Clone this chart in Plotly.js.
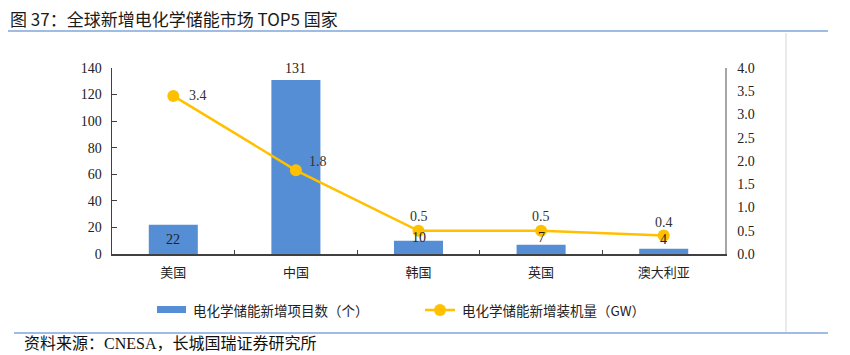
<!DOCTYPE html>
<html>
<head>
<meta charset="utf-8">
<script src="https://cdn.plot.ly/plotly-3.0.1.min.js"></script>
<style>html,body{margin:0;padding:0;background:#fff;}#chart{width:850px;height:355px;}</style>
</head>
<body>
<div id="chart"></div>
<script>
// ---- data ----
const categories = ['美国', '中国', '韩国', '英国', '澳大利亚'];
const projectCounts = [22, 131, 10, 7, 4];          // 电化学储能新增项目数（个）
const capacityGW = [3.4, 1.8, 0.5, 0.5, 0.4];       // 电化学储能新增装机量（GW）
const barSeriesName = '电化学储能新增项目数（个）';
const lineSeriesName = '电化学储能新增装机量（GW）';
const leftTicks = [0, 20, 40, 60, 80, 100, 120, 140];
const rightTicks = [0, 0.5, 1, 1.5, 2, 2.5, 3, 3.5, 4];

// label offsets (styling only)
const barLabelShift = [-15, 11, 3, 7, 9];
const lineLabelXShift = [25, 22, 0, 0, 0];
const lineLabelYShift = [0, 9, 14, 14, 13];

const BAR = '#558ed5';
const GOLD = '#ffc000';
const SERIF = 'Liberation Serif, Times New Roman, serif';
const CJK = 'Noto Sans CJK SC, sans-serif';
const MIX = 'Liberation Serif, Noto Sans CJK SC, serif';

const traces = [
  {
    type: 'bar', x: categories, y: projectCounts, name: barSeriesName,
    marker: {color: BAR}, width: 0.4, yaxis: 'y', hoverinfo: 'skip'
  },
  {
    type: 'scatter', mode: 'lines+markers', x: categories, y: capacityGW, name: lineSeriesName,
    line: {color: GOLD, width: 2.5}, marker: {color: GOLD, size: 12}, yaxis: 'y2', hoverinfo: 'skip'
  }
];

const annotations = [];
categories.forEach((c, i) => {
  annotations.push({x: c, y: projectCounts[i], xref: 'x', yref: 'y', text: String(projectCounts[i]),
    showarrow: false, yshift: barLabelShift[i], font: {family: SERIF, size: 14, color: '#222'}});
  annotations.push({x: c, y: capacityGW[i], xref: 'x', yref: 'y2', text: capacityGW[i].toFixed(1),
    showarrow: false, xshift: lineLabelXShift[i], yshift: lineLabelYShift[i], font: {family: SERIF, size: 14, color: '#333'}});
});
// title, source, legend texts
annotations.push({xref: 'paper', yref: 'paper', x: -0.1697, y: 1.2688, xanchor: 'left', yanchor: 'middle',
  text: '图 37：全球新增电化学储能市场 TOP5 国家', showarrow: false, font: {family: CJK, size: 17, color: '#1a1a1a'}});
annotations.push({xref: 'paper', yref: 'paper', x: -0.1468, y: -0.5376, xanchor: 'left', yanchor: 'bottom',
  text: '资料来源：CNESA，长城国瑞证券研究所', showarrow: false, font: {family: MIX, size: 16, color: '#111'}});
annotations.push({xref: 'paper', yref: 'paper', x: 0.1289, y: -0.301, xanchor: 'left', yanchor: 'middle',
  text: barSeriesName, showarrow: false, font: {family: CJK, size: 13.5, color: '#222'}});
annotations.push({xref: 'paper', yref: 'paper', x: 0.5677, y: -0.301, xanchor: 'left', yanchor: 'middle',
  text: lineSeriesName, showarrow: false, font: {family: CJK, size: 13.5, color: '#222'}});

const shapes = [
  // title underline
  {type: 'line', xref: 'paper', yref: 'paper', x0: -0.1697, x1: 1.168, y0: 1.199, y1: 1.199, line: {color: '#7fa7d8', width: 1.5}},
  // source line
  {type: 'line', xref: 'paper', yref: 'paper', x0: -0.1599, x1: 1.168, y0: -0.4247, y1: -0.4247, line: {color: '#7fa7d8', width: 1.5}},
  // vertical gray line
  {type: 'line', xref: 'paper', yref: 'paper', x0: 1.0995, x1: 1.0995, y0: 1.188, y1: -0.419, line: {color: '#d4d4d4', width: 1}},
  // legend swatch bar
  {type: 'rect', xref: 'paper', yref: 'paper', x0: 0.0734, x1: 0.1207, y0: -0.2796, y1: -0.3172, fillcolor: BAR, line: {width: 0}},
  // legend line
  {type: 'line', xref: 'paper', yref: 'paper', x0: 0.5106, x1: 0.5595, y0: -0.301, y1: -0.301, line: {color: GOLD, width: 2.5}},
  {type: 'circle', xref: 'paper', yref: 'paper', xsizemode: 'pixel', ysizemode: 'pixel', xanchor: 0.5351, yanchor: -0.301,
   x0: -6, x1: 6, y0: -6, y1: 6, fillcolor: GOLD, line: {width: 0}}
];

const layout = {
  width: 850, height: 355,
  margin: {l: 112, r: 125, t: 68, b: 101, pad: 0},
  paper_bgcolor: '#fff', plot_bgcolor: '#fff',
  showlegend: false,
  xaxis: {
    type: 'category', tickson: 'boundaries', ticks: 'inside', ticklen: 4, tickcolor: '#404040',
    showline: true, linecolor: '#404040', linewidth: 1.5, showgrid: false, zeroline: false,
    tickfont: {family: CJK, size: 13, color: '#222'}, ticklabelstandoff: 6, fixedrange: true
  },
  yaxis: {
    range: [0, 140], tickvals: leftTicks, ticks: 'inside', ticklen: 5, tickcolor: '#404040',
    showline: true, linecolor: '#404040', linewidth: 1.5, showgrid: false, zeroline: false,
    tickfont: {family: SERIF, size: 14, color: '#222'}, ticklabelstandoff: 6
  },
  yaxis2: {
    range: [0, 4], tickvals: rightTicks, tickformat: '.1f', overlaying: 'y', side: 'right', ticks: '',
    showline: true, linecolor: '#a6a6a6', linewidth: 1.5, showgrid: false, zeroline: false,
    tickfont: {family: SERIF, size: 14, color: '#222'}, ticklabelstandoff: 8
  },
  annotations: annotations,
  shapes: shapes
};

Plotly.newPlot('chart', traces, layout, {staticPlot: true, displayModeBar: false});
</script>
</body>
</html>
